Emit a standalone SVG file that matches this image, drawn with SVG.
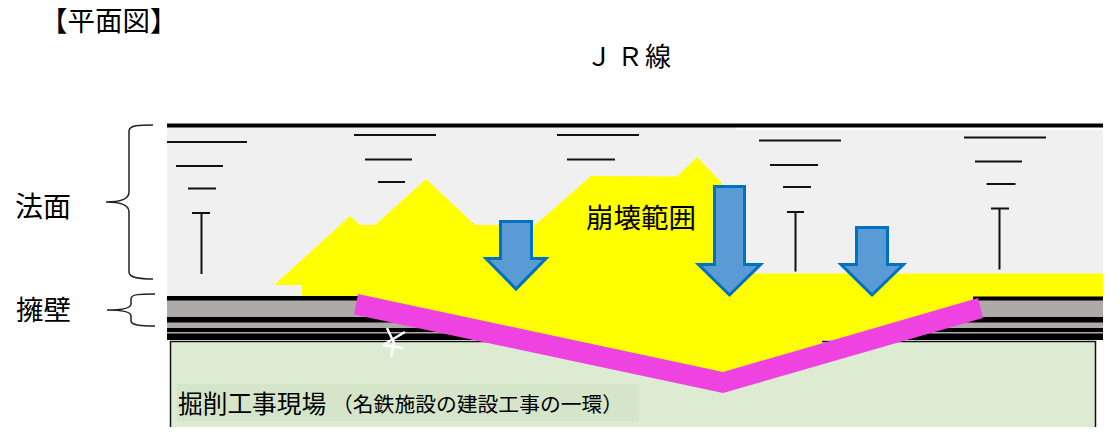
<svg xmlns="http://www.w3.org/2000/svg" width="1120" height="438" viewBox="0 0 1120 438">
<style>
text{font-family:"Noto Sans CJK JP","Noto Sans",sans-serif;fill:#000}
.t{stroke:#111;stroke-width:2;fill:none}
.b{stroke:#222;stroke-width:1.5;fill:none}
.a{fill:#5B9BD5;stroke:#0070C0;stroke-width:3}
</style>
<rect width="1120" height="438" fill="#fff"/>
<g id="slope">
<polygon points="167,127 736,127 736,130 1103,130 1103,297 167,297" fill="#F0F0F0"/>
<rect x="167" y="123.5" width="936" height="4" fill="#000"/>
</g>
<g id="retaining-wall">
<rect x="167" y="296" width="936" height="44" fill="#000"/>
<rect x="167" y="300.5" width="936" height="16.5" fill="#AEAAAA"/>
<rect x="167" y="322.5" width="936" height="5.5" fill="#AEAAAA"/>
<rect x="167" y="332" width="936" height="1.5" fill="#AEAAAA"/>
</g>
<g id="excavation-site">
<path d="M170.500 427V341.500H1095.500V427" fill="#DDEBD3" stroke="#111" stroke-width="1.500"/>
<rect x="177" y="384" width="462" height="37" fill="#D5E5C9"/>
<text x="178" y="413" font-size="24.700">掘削工事現場</text>
<text x="332" y="412" font-size="20.800">（名鉄施設の建設工事の一環）</text>
</g>
<g id="collapse-area">
<polygon fill="#FF0" points="274,285 350,216 360,225 375,225 426,179 475,225 535,225 591,176 677,176.500 697,157 722,183 730,273.500 1103,273.500 1103,296.500 973,296.500 973,305 840,340 822,340 822,350 722,382 358,300 358,296 302,296 302,285"/>
<text x="586" y="228" font-size="27.500">崩壊範囲</text>
</g>
<g id="slope-marks">
<path class="t" d="M167 142H247M176 166H223M188 188.500H216M192 213H210M201.500 213V274"/>
<path class="t" d="M354 135H436M365 159.500H412M378 182H405"/>
<path class="t" d="M557 135H639M567 159.500H615"/>
<path class="t" d="M759 140.500H841M770 165H818M783 187H811M787 212H804M795.500 212V271.500"/>
<path class="t" d="M964 137.500H1046M975 161.500H1022M986.500 184H1015.500M991 208.500H1009M999.500 209V269.500"/>
</g>
<g id="shoring">
<polygon points="358,294 354,314.500 723,393 983,318 978,298 723,372" fill="#EE43E0"/>
</g>
<g id="crack">
<path d="M387 328L394 343L391 357M405 332L383 345M383 345L403 348" fill="none" stroke="#fff" stroke-width="2.500"/>
</g>
<g id="arrows">
<polygon class="a" points="500.500,221.500 531.500,221.500 531.500,258.500 546,258.500 516,289 486,258.500 500.500,258.500"/>
<polygon class="a" points="714.500,186.500 744.500,186.500 744.500,264.500 760.500,264.500 729.500,295 698.500,264.500 714.500,264.500"/>
<polygon class="a" points="856.500,227.500 887.500,227.500 887.500,264.500 903.500,264.500 872,295 841,264.500 856.500,264.500"/>
</g>
<g id="slope-label">
<path class="b" d="M153 125C140 125 129 125 129 131V192C129 199 122 202 106 202C122 202 129 205 129 212V272C129 278 140 279 153 279"/>
<text x="15" y="217" font-size="28">法面</text>
</g>
<g id="wall-label">
<path class="b" d="M155 294C140 294 131 294 131 299V304C131 308 122 310 107 310C122 310 131 312 131 316V321C131 325 140 326 155 326"/>
<text x="16" y="320" font-size="27.500">擁壁</text>
</g>
<text x="40" y="31" font-size="27.500">【平面図】</text>
<text x="586 617 645" y="66" font-size="26">ＪＲ線</text>
</svg>
